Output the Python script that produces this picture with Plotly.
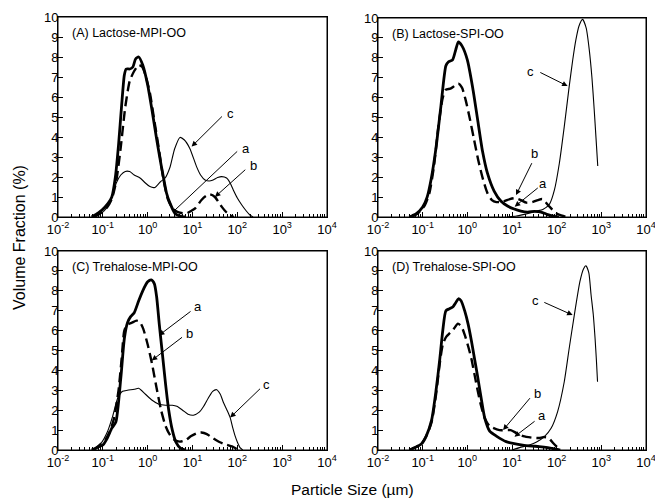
import numpy as np
import plotly.graph_objects as go

# ---------------- data (log10 of particle size in µm, volume fraction %) ----------------
# Panel A: Lactose-MPI-OO
A_a_log = [-1.25, -1.1, -0.95, -0.8, -0.72, -0.65, -0.58, -0.52, -0.48, -0.4, -0.33, -0.27, -0.2, -0.11,
           0.0, 0.1, 0.2, 0.3, 0.35, 0.42, 0.5, 0.61, 0.72, 0.85]
A_a_vol = [0, 0.2, 0.5, 1.0, 2.0, 3.6, 5.6, 7.1, 7.4, 7.4, 7.5, 7.9, 8.0, 7.6,
           6.6, 5.3, 3.9, 2.6, 2.0, 1.2, 0.68, 0.18, 0.05, 0]
A_b_log = [-1.2, -1.05, -0.9, -0.8, -0.7, -0.6, -0.5, -0.4, -0.3, -0.2, -0.12, -0.05, 0.05, 0.15, 0.25,
           0.35, 0.45, 0.55, 0.65, 0.75, 0.87, 0.97, 1.06, 1.2, 1.3, 1.39, 1.5, 1.58, 1.65, 1.75, 1.84, 1.92]
A_b_vol = [0, 0.2, 0.5, 0.9, 1.8, 3.5, 5.5, 6.8, 7.3, 7.6, 7.5, 7.1, 6.2, 4.8, 3.4,
           1.9, 0.9, 0.45, 0.27, 0.2, 0.18, 0.3, 0.43, 0.85, 1.05, 1.13, 1.0, 0.75, 0.52, 0.25, 0.1, 0]
A_c_log = [-1.2, -1.05, -0.9, -0.8, -0.7, -0.6, -0.5, -0.4, -0.3, -0.17, -0.05, 0.05, 0.16, 0.28, 0.39,
           0.5, 0.6, 0.72, 0.82, 0.94, 1.09, 1.18, 1.28, 1.37, 1.46, 1.56, 1.65, 1.76, 1.84, 1.91,
           2.0, 2.1, 2.2, 2.28, 2.35]
A_c_vol = [0, 0.15, 0.5, 1.0, 1.7, 2.1, 2.28, 2.27, 2.1, 1.95, 1.7, 1.52, 1.48, 1.75, 1.95,
           2.5, 3.4, 3.98, 3.85, 3.43, 2.52, 2.1, 1.85, 1.8, 1.85, 1.97, 2.02, 1.95, 1.7, 1.35,
           0.95, 0.6, 0.3, 0.1, 0]

# Panel B: Lactose-SPI-OO
B_a_log = [-1.3, -1.15, -1.0, -0.9, -0.81, -0.7, -0.59, -0.48, -0.42, -0.33, -0.26, -0.2, -0.12, 0.0,
           0.12, 0.23, 0.34, 0.45, 0.6, 0.75, 0.9, 1.05, 1.2, 1.35, 1.5, 1.65, 1.8, 1.95, 2.05]
B_a_vol = [0, 0.15, 0.5, 1.0, 1.9, 3.5, 5.6, 7.6, 7.8, 7.9, 8.4, 8.8, 8.6, 7.9,
           6.5, 4.9, 3.3, 2.2, 1.3, 0.8, 0.55, 0.4, 0.3, 0.25, 0.28, 0.25, 0.12, 0.03, 0]
B_b_log = [-1.25, -1.1, -0.95, -0.85, -0.75, -0.65, -0.55, -0.48, -0.38, -0.28, -0.2, -0.12, -0.04, 0.05,
           0.15, 0.25, 0.35, 0.45, 0.55, 0.65, 0.8, 0.95, 1.06, 1.2, 1.32, 1.45, 1.58, 1.68, 1.84, 1.99, 2.1, 2.2, 2.3]
B_b_vol = [0, 0.2, 0.6, 1.2, 2.5, 4.5, 6.0, 6.4, 6.45, 6.6, 6.7, 6.5, 5.9, 5.0,
           3.9, 2.8, 1.9, 1.2, 0.85, 0.75, 0.77, 0.9, 0.95, 0.85, 0.72, 0.74, 0.85, 0.9, 0.52, 0.19, 0.08, 0.02, 0]
B_c_log = [0.9, 1.1, 1.25, 1.4, 1.55, 1.69, 1.84, 1.95, 2.06, 2.17, 2.28, 2.36, 2.43, 2.5, 2.58,
           2.66, 2.73, 2.79, 2.84, 2.88, 2.92]
B_c_vol = [0, 0.05, 0.12, 0.2, 0.3, 0.38, 0.65, 1.36, 2.7, 4.54, 6.55, 7.9, 8.9, 9.6, 9.93,
           9.5, 8.4, 7.0, 5.4, 4.0, 2.56]

# Panel C: Trehalose-MPI-OO
C_a_log = [-1.25, -1.1, -1.0, -0.9, -0.8, -0.71, -0.6, -0.52, -0.45, -0.38, -0.3, -0.2, -0.11, 0.0, 0.08,
           0.15, 0.2, 0.26, 0.33, 0.4, 0.47, 0.55, 0.63, 0.73, 0.85]
C_a_vol = [0, 0.15, 0.25, 0.6, 1.1, 1.4, 3.6, 5.6, 6.4, 6.7, 6.9, 7.5, 8.0, 8.45, 8.55,
           8.35, 7.7, 6.3, 4.8, 3.3, 2.0, 1.0, 0.4, 0.1, 0]
C_b_log = [-1.2, -1.05, -0.95, -0.85, -0.75, -0.65, -0.58, -0.52, -0.45, -0.35, -0.25, -0.18, -0.1, 0.0,
           0.1, 0.2, 0.3, 0.4, 0.5, 0.6, 0.72, 0.85, 0.97, 1.1, 1.2, 1.32, 1.45, 1.6, 1.75, 1.88, 2.0, 2.08]
C_b_vol = [0, 0.3, 0.5, 0.9, 1.6, 3.0, 4.6, 6.0, 6.3, 6.4, 6.5, 6.45, 6.1, 5.3,
           4.3, 3.1, 2.0, 1.2, 0.75, 0.5, 0.42, 0.5, 0.7, 0.85, 0.88, 0.8, 0.6, 0.4, 0.27, 0.18, 0.05, 0]
C_c_log = [-1.2, -1.05, -0.9, -0.78, -0.67, -0.56, -0.45, -0.3, -0.2, -0.05, 0.1, 0.25, 0.4, 0.55, 0.65,
           0.78, 0.9, 1.02, 1.15, 1.25, 1.35, 1.45, 1.54, 1.62, 1.69, 1.77, 1.84, 1.9, 1.95, 2.0, 2.06, 2.12]
C_c_vol = [0, 0.3, 0.9, 1.7, 2.6, 2.95, 3.0, 3.05, 3.1, 2.8, 2.5, 2.3, 2.25, 2.25, 2.2,
           2.0, 1.8, 1.75, 1.9, 2.2, 2.6, 2.95, 3.03, 2.8, 2.39, 2.0, 1.63, 1.1, 0.71, 0.4, 0.12, 0]

# Panel D: Trehalose-SPI-OO
D_a_log = [-1.3, -1.15, -1.03, -0.92, -0.8, -0.7, -0.62, -0.55, -0.48, -0.4, -0.32, -0.26, -0.2, -0.14,
           -0.06, 0.02, 0.09, 0.16, 0.23, 0.31, 0.39, 0.5, 0.65, 0.87, 1.05, 1.24, 1.45, 1.61, 1.8, 1.98, 2.08]
D_a_vol = [0, 0.15, 0.3, 0.7, 1.5, 3.0, 4.5, 6.0, 7.0, 7.1, 7.2, 7.4, 7.6, 7.5,
           7.0, 6.3, 5.5, 4.6, 3.7, 2.6, 1.6, 0.95, 0.7, 0.42, 0.32, 0.25, 0.2, 0.17, 0.12, 0.05, 0]
D_b_log = [-1.3, -1.15, -1.03, -0.92, -0.8, -0.7, -0.62, -0.55, -0.47, -0.38, -0.3, -0.21, -0.13, -0.06,
           0.02, 0.09, 0.16, 0.23, 0.31, 0.39, 0.5, 0.72, 0.97, 1.1, 1.25, 1.45, 1.6, 1.72, 1.82, 1.92, 2.0, 2.1]
D_b_vol = [0, 0.15, 0.3, 0.7, 1.4, 2.8, 4.3, 5.3, 5.7, 5.9, 6.1, 6.35, 6.2, 5.8,
           5.2, 4.6, 3.8, 3.0, 2.2, 1.6, 1.2, 1.0, 1.0, 0.85, 0.7, 0.62, 0.6, 0.65, 0.6, 0.35, 0.17, 0]
D_c_log = [1.0, 1.17, 1.39, 1.55, 1.725, 1.875, 2.02, 2.17, 2.28, 2.395, 2.52, 2.6, 2.655, 2.72, 2.77,
           2.82, 2.86, 2.89, 2.915]
D_c_vol = [0, 0.12, 0.25, 0.4, 0.67, 1.09, 1.92, 3.43, 5.1, 6.78, 8.46, 9.1, 9.26, 8.9, 7.8,
           6.8, 5.6, 4.5, 3.43]

TICK_VALS = [0.01, 0.1, 1, 10, 100, 1000, 10000]
TICK_TEXT = ["10<sup>-2</sup>", "10<sup>-1</sup>", "10<sup>0</sup>", "10<sup>1</sup>",
             "10<sup>2</sup>", "10<sup>3</sup>", "10<sup>4</sup>"]
PANEL_TITLES = ["(A) Lactose-MPI-OO", "(B) Lactose-SPI-OO", "(C) Trehalose-MPI-OO", "(D) Trehalose-SPI-OO"]

panels = [
    (A_a_log, A_a_vol, A_b_log, A_b_vol, A_c_log, A_c_vol),
    (B_a_log, B_a_vol, B_b_log, B_b_vol, B_c_log, B_c_vol),
    (C_a_log, C_a_vol, C_b_log, C_b_vol, C_c_log, C_c_vol),
    (D_a_log, D_a_vol, D_b_log, D_b_vol, D_c_log, D_c_vol),
]

FONT = "Liberation Sans, Arial, sans-serif"
W, H = 655, 499

fig = go.Figure()

styles = [
    dict(color="black", width=2.8, dash="solid"),
    dict(color="black", width=2.4, dash="10px,5px"),
    dict(color="black", width=1.1, dash="solid"),
]

for i, p in enumerate(panels):
    sfx = "" if i == 0 else str(i + 1)
    for k in range(3):
        lx = np.array(p[2 * k], dtype=float)
        vy = np.array(p[2 * k + 1], dtype=float)
        fig.add_trace(go.Scatter(
            x=10 ** lx, y=vy, mode="lines",
            line=dict(shape="spline", smoothing=0.6, **styles[k]),
            xaxis="x" + sfx, yaxis="y" + sfx, showlegend=False, hoverinfo="skip"))

# pixel geometry of the four plot boxes
boxes = {
    1: (58, 327, 17, 217),
    2: (378, 646, 18, 217),
    3: (58, 327, 251, 450),
    4: (378, 646, 251, 450),
}
minor_vals = [k * 10.0 ** e for e in range(-2, 4) for k in range(2, 10)]

layout = dict(width=W, height=H, margin=dict(l=0, r=0, t=0, b=0, autoexpand=False),
              paper_bgcolor="white", plot_bgcolor="white",
              font=dict(family=FONT, color="black", size=13))
shapes = []
for n, (x0, x1, y0, y1) in boxes.items():
    sfx = "" if n == 1 else str(n)
    layout["xaxis" + sfx] = dict(
        domain=[x0 / W, x1 / W], anchor="y" + sfx, type="log", range=[-2, 4],
        tickmode="array", tickvals=TICK_VALS, ticktext=TICK_TEXT, automargin=False,
        ticklabeloverflow="allow",
        ticks="inside", ticklen=5, tickwidth=1, tickcolor="black",
        showline=True, linecolor="black", linewidth=1, mirror=True,
        showgrid=False, zeroline=False,
        tickfont=dict(family=FONT, size=13, color="black"),
        minor=dict(tickvals=minor_vals, ticks="inside", ticklen=3, tickwidth=1,
                   tickcolor="black", showgrid=False),
    )
    layout["yaxis" + sfx] = dict(
        domain=[1 - y1 / H, 1 - y0 / H], anchor="x" + sfx, range=[0, 10],
        tickmode="linear", tick0=0, dtick=1, automargin=False, ticklabelstandoff=-4,
        ticks="inside", ticklen=5, tickwidth=1, tickcolor="black",
        showline=True, linecolor="black", linewidth=1, mirror=True,
        showgrid=False, zeroline=False,
        tickfont=dict(family=FONT, size=13, color="black"),
    )
    shapes.append(dict(type="rect", xref="x" + sfx + " domain", yref="y" + sfx + " domain",
                       x0=0, x1=1, y0=0, y1=1, line=dict(color="black", width=1),
                       fillcolor="rgba(0,0,0,0)", layer="above"))
layout["shapes"] = shapes

annotations = []
for n, title in enumerate(PANEL_TITLES, start=1):
    sfx = "" if n == 1 else str(n)
    annotations.append(dict(text=title, xref=("x" + sfx) + " domain", yref=("y" + sfx) + " domain",
                            x=0.045, y=0.92, xanchor="left", yanchor="middle", showarrow=False,
                            font=dict(family=FONT, size=12.5, color="black")))

# curve labels with arrows: (panel, label, label_logx, label_y, tail_logx, tail_y, tip_logx, tip_y, head)
arrows = [
    (1, "c", 1.84, 5.2, 1.69, 5.1, 0.98, 3.52, True),
    (1, "a", 2.2, 3.45, 2.03, 3.35, 0.61, 0.35, False),
    (1, "b", 2.35, 2.6, 2.21, 2.43, 1.5, 1.0, True),
    (2, "c", 1.41, 7.3, 1.6, 7.3, 2.245, 6.58, True),
    (2, "b", 1.5, 3.17, 1.46, 2.78, 1.09, 1.1, True),
    (2, "a", 1.69, 1.66, 1.61, 1.52, 1.06, 0.52, True),
    (3, "a", 1.12, 7.22, 0.99, 7.02, 0.25, 5.76, True),
    (3, "b", 0.93, 5.84, 0.8, 5.72, 0.09, 4.5, True),
    (3, "c", 2.66, 3.27, 2.54, 3.15, 1.84, 1.63, True),
    (4, "c", 1.52, 7.49, 1.69, 7.45, 2.357, 6.78, True),
    (4, "b", 1.58, 2.85, 1.43, 2.68, 0.8, 1.0, True),
    (4, "a", 1.67, 1.71, 1.54, 1.5, 1.056, 0.67, True),
]
for n, lab, lxl, lyl, tx, ty, hx, hy, head in arrows:
    sfx = "" if n == 1 else str(n)
    xr, yr = "x" + sfx, "y" + sfx
    annotations.append(dict(text=lab, xref=xr, yref=yr, x=lxl, y=lyl, showarrow=False,
                            xanchor="center", yanchor="middle",
                            font=dict(family=FONT, size=13, color="black")))
    annotations.append(dict(text="", xref=xr, yref=yr, x=hx, y=hy, axref=xr, ayref=yr, ax=tx, ay=ty,
                            showarrow=True, arrowhead=2 if head else 0, arrowsize=1.1, arrowwidth=1,
                            arrowcolor="black", standoff=0, startstandoff=0))

annotations.append(dict(text="Volume Fraction (%)", xref="paper", yref="paper", x=19 / W, y=1 - 238 / H,
                        textangle=-90, showarrow=False, xanchor="center", yanchor="middle",
                        font=dict(family=FONT, size=16, color="black")))
annotations.append(dict(text="Particle Size (µm)", xref="paper", yref="paper", x=352 / W, y=1 - 489 / H,
                        showarrow=False, xanchor="center", yanchor="middle",
                        font=dict(family=FONT, size=15.5, color="black")))
layout["annotations"] = annotations

fig.update_layout(**layout)
fig.write_html(
    "out.html",
    config={"displayModeBar": False, "responsive": False},
    post_script=("document.documentElement.style.overflow='hidden';"
                 "document.body.style.overflow='hidden';"
                 "document.body.style.margin='0px';document.body.style.padding='0px';"),
)
